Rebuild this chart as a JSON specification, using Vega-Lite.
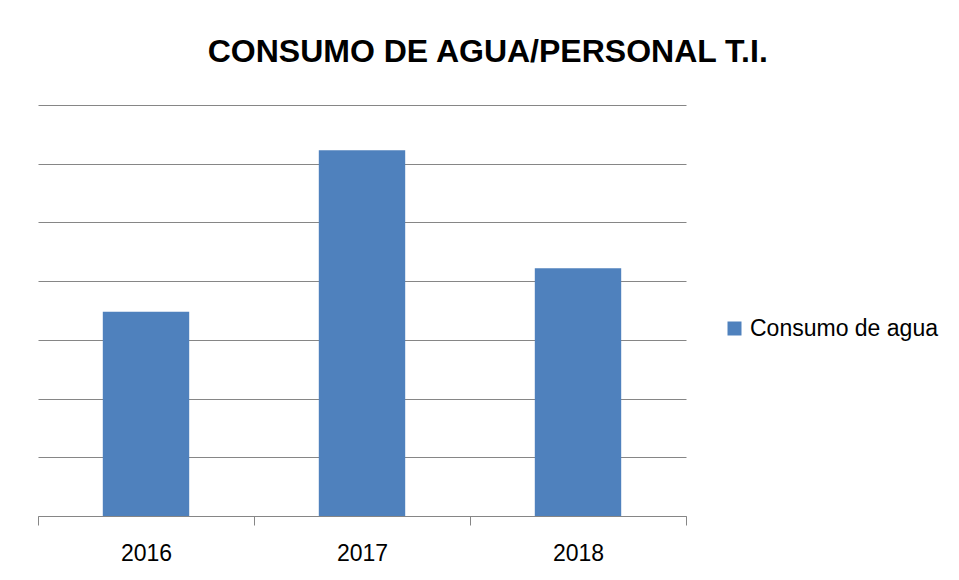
{
  "$schema": "https://vega.github.io/schema/vega-lite/v6.json",
  "autosize": "none",
  "width": 648,
  "height": 411,
  "padding": {"left": 38, "top": 105, "right": 273, "bottom": 64},
  "background": "white",
  "title": {
    "text": "CONSUMO DE AGUA/PERSONAL T.I.",
    "font": "Liberation Sans",
    "fontSize": 32,
    "fontWeight": "bold",
    "color": "#000000",
    "anchor": "middle",
    "frame": "bounds",
    "baseline": "alphabetic",
    "offset": 11
  },
  "data": {
    "values": [
      {"year": "2016", "series": "Consumo de agua", "value": 3.48},
      {"year": "2017", "series": "Consumo de agua", "value": 6.23},
      {"year": "2018", "series": "Consumo de agua", "value": 4.22}
    ]
  },
  "mark": {"type": "bar", "width": {"band": 0.4}},
  "encoding": {
    "x": {
      "field": "year",
      "type": "nominal",
      "title": null,
      "scale": {"paddingInner": 0, "paddingOuter": 0},
      "axis": {
        "labelAngle": 0,
        "labelFont": "Liberation Sans",
        "labelFontSize": 23,
        "labelColor": "#000000",
        "labelPadding": 17,
        "tickBand": "extent",
        "tickSize": 9,
        "tickColor": "#868686",
        "domainColor": "#868686",
        "grid": false
      }
    },
    "y": {
      "field": "value",
      "type": "quantitative",
      "title": null,
      "scale": {"domain": [0, 7], "nice": false},
      "axis": {
        "values": [0, 1, 2, 3, 4, 5, 6, 7],
        "labels": false,
        "ticks": false,
        "domain": false,
        "grid": true,
        "gridColor": "#868686",
        "gridOpacity": 1
      }
    },
    "color": {
      "field": "series",
      "type": "nominal",
      "title": null,
      "scale": {"range": ["#4F81BD"]},
      "legend": {
        "orient": "none",
        "legendX": 685,
        "legendY": 212,
        "symbolType": "square",
        "symbolSize": 196,
        "symbolStrokeWidth": 0,
        "symbolOpacity": 1,
        "labelFont": "Liberation Sans",
        "labelFontSize": 23,
        "labelColor": "#000000",
        "labelOffset": 4,
        "labelLimit": 400,
        "padding": 0
      }
    }
  },
  "config": {"view": {"stroke": null}}
}
